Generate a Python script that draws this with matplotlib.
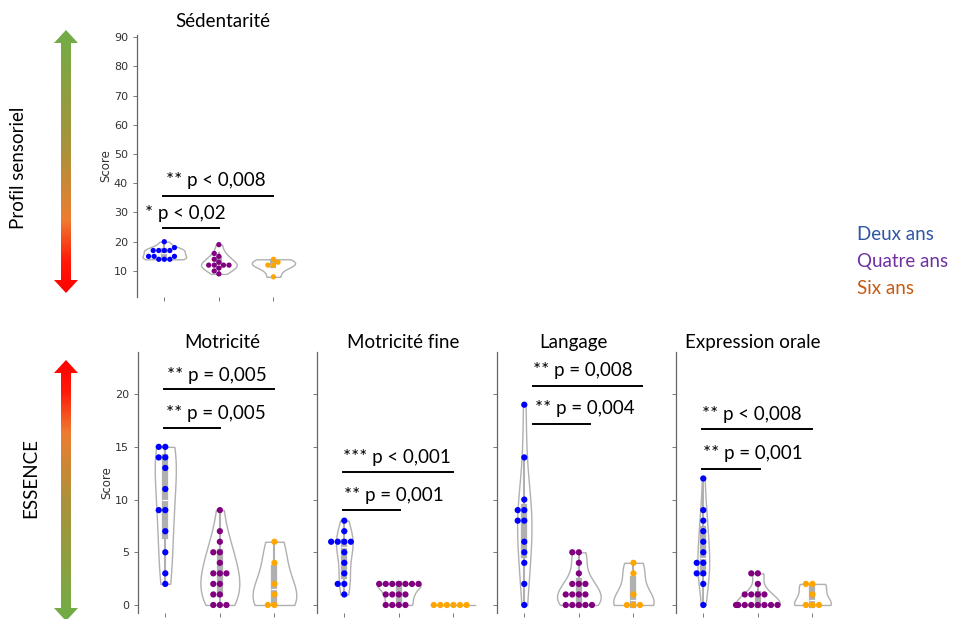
import numpy as np
import pandas as pd
import matplotlib
matplotlib.use('Agg')
import matplotlib.pyplot as plt
import seaborn as sns
from matplotlib.colors import LinearSegmentedColormap
from matplotlib.patches import Polygon

# groupes d'age
groups = ['Deux ans', 'Quatre ans', 'Six ans']
dot_colors = ['blue', 'purple', 'orange']
legend_colors = ['#2F55A4', '#7030A0', '#C55A11']

# scores (deux ans, quatre ans, six ans)
sedentarite = [[20, 18, 17, 17, 17, 17, 15, 15, 15, 14, 14, 14],
               [19, 16, 15, 14, 13, 12, 12, 12, 12, 11, 10, 9],
               [14, 13, 12, 12, 8]]
motricite = [[15, 15, 14, 14, 13, 11, 9, 9, 7, 5, 3, 2],
             [9, 7, 6, 5, 5, 4, 3, 3, 3, 2, 2, 1, 1, 0, 0, 0],
             [6, 4, 2, 1, 0, 0]]
motricite_fine = [[8, 7, 6, 6, 6, 6, 5, 4, 3, 2, 2, 1],
                  [2, 2, 2, 2, 2, 2, 2, 1, 1, 1, 1, 0, 0, 0, 0],
                  [0, 0, 0, 0, 0, 0]]
langage = [[19, 14, 10, 9, 9, 8, 8, 6, 5, 4, 2, 0],
           [5, 5, 4, 3, 2, 2, 2, 1, 1, 1, 1, 0, 0, 0, 0, 0],
           [4, 3, 1, 0, 0, 0]]
expression = [[12, 9, 8, 7, 6, 5, 4, 4, 3, 3, 2, 0],
              [3, 3, 2, 1, 1, 1, 1, 0, 0, 0, 0, 0, 0, 0, 0],
              [2, 2, 1, 0, 0, 0]]

# comparaisons : (x debut, x fin, y trait, texte, x texte, y texte)
sed_annot = [(-0.03, 1.0, 24.7, '* p < 0,02', -0.35, 29.8),
             (-0.03, 2.0, 35.6, '** p < 0,008', 0.04, 40.8)]
mot_annot = [(-0.03, 1.0, 16.8, '** p = 0,005', 0.02, 18.2),
             (-0.03, 2.0, 20.5, '** p = 0,005', 0.04, 21.8)]
fine_annot = [(-0.02, 1.02, 9.0, '** p = 0,001', 0.0, 10.4),
              (-0.02, 2.0, 12.6, '*** p < 0,001', -0.02, 14.0)]
lang_annot = [(0.16, 1.2, 17.2, '** p = 0,004', 0.2, 18.6),
              (0.16, 2.15, 20.8, '** p = 0,008', 0.16, 22.2)]
expr_annot = [(-0.02, 1.04, 12.9, '** p = 0,001', 0.0, 14.4),
              (-0.02, 2.0, 16.7, '** p < 0,008', -0.02, 18.1)]

W, H = 959, 619
fig = plt.figure(figsize=(W / 100, H / 100), dpi=100)

# fleches en degrade
back = fig.add_axes([0, 0, 1, 1], zorder=0)
back.set_xlim(0, W)
back.set_ylim(H, 0)
back.axis('off')
cmap = LinearSegmentedColormap.from_list(
    'g2r', [(0, '#70AD47'), (0.45, '#A9923A'), (0.72, '#ED7D31'), (0.88, '#FF1A0A'), (1, '#FF0000')])


def gradient_arrow(cx, y_top, y_bot, green_on_top):
    hl, hw, sw = 13, 12, 5
    pts = [(cx, y_top), (cx + hw, y_top + hl), (cx + sw, y_top + hl), (cx + sw, y_bot - hl),
           (cx + hw, y_bot - hl), (cx, y_bot), (cx - hw, y_bot - hl), (cx - sw, y_bot - hl),
           (cx - sw, y_top + hl), (cx - hw, y_top + hl)]
    poly = Polygon(pts, closed=True, facecolor='none', edgecolor='none')
    back.add_patch(poly)
    grad = np.linspace(0, 1, 256)[:, None]
    if not green_on_top:
        grad = grad[::-1]
    im = back.imshow(grad, cmap=cmap, aspect='auto', extent=[cx - hw, cx + hw, y_bot, y_top],
                     interpolation='bilinear')
    im.set_clip_path(poly)


gradient_arrow(66, 30, 293, True)
gradient_arrow(66, 360, 621, False)

fig.text(19 / W, 1 - 168 / H, 'Profil sensoriel', rotation=90, ha='center', va='center',
         fontsize=13.5, family='Lato')
fig.text(31 / W, 1 - 478 / H, 'ESSENCE', rotation=90, ha='center', va='center',
         fontsize=13.5, family='Lato')

for i, g in enumerate(groups):
    fig.text(857 / W, 1 - (234 + 27.5 * i) / H, g, color=legend_colors[i], ha='left',
             va='center', fontsize=13.5, family='Lato')


def draw_panel(ax, values, title, annots, title_x, title_y, first, dot):
    df = pd.DataFrame({'groupe': np.repeat(groups, [len(v) for v in values]),
                       'score': np.concatenate(values).astype(float)})
    sns.violinplot(data=df, x='groupe', y='score', order=groups, color='white',
                   linecolor='#b0b0b0', linewidth=1, cut=0, width=0.8, inner='box', ax=ax)
    sns.swarmplot(data=df, x='groupe', y='score', order=groups, hue='groupe',
                  palette=dot_colors, size=dot, ax=ax, legend=False, zorder=3)
    for x0, x1, yl, txt, xt, yt in annots:
        ax.plot([x0, x1], [yl, yl], color='black', lw=1.4, clip_on=False)
        ax.text(xt, yt, txt, ha='left', va='center', fontsize=13.5, family='Lato', clip_on=False)
    ax.text(title_x, title_y, title, transform=ax.transAxes, ha='center', va='center',
            fontsize=13.5, family='Lato')
    ax.set_xlim(-0.5, 2.78)
    ax.set_xticks([0, 1, 2])
    ax.set_xticklabels([])
    ax.set_xlabel('')
    for s in ['top', 'right', 'bottom']:
        ax.spines[s].set_visible(False)
    ax.spines['left'].set_color('#666666')
    ax.spines['left'].set_linewidth(0.9)
    ax.tick_params(colors='#777777', labelcolor='#333333', labelsize=8, length=3, width=0.7)
    if first:
        ax.set_ylabel('Score', fontsize=8.5, color='#333333', labelpad=1)
    else:
        ax.set_ylabel('')
        ax.set_yticklabels([])
    ax.set_facecolor('none')


pw = 179 / W
ax_top = fig.add_axes([137 / W, 1 - 297 / H, pw, 262 / H], zorder=2)
draw_panel(ax_top, sedentarite, 'Sédentarité', sed_annot, 0.48, 1.05, True, 3.8)
ax_top.set_ylim(1.1, 90.7)
ax_top.set_yticks(np.arange(10, 91, 10))

panels = [(motricite, 'Motricité', mot_annot, 0.47),
          (motricite_fine, 'Motricité fine', fine_annot, 0.48),
          (langage, 'Langage', lang_annot, 0.425),
          (expression, 'Expression orale', expr_annot, 0.43)]
lefts = [138, 317, 497, 676]
for k, (vals, title, annots, tx) in enumerate(panels):
    ax = fig.add_axes([lefts[k] / W, 1 - 613 / H, pw, 261 / H], zorder=2)
    draw_panel(ax, vals, title, annots, tx, 1.038, k == 0, 4.5)
    ax.set_ylim(-0.76, 24)
    ax.set_yticks([0, 5, 10, 15, 20])
    if k == 0:
        ax.set_yticklabels(['0', '5', '10', '15', '20'])

fig.savefig('out.png', dpi=100)
